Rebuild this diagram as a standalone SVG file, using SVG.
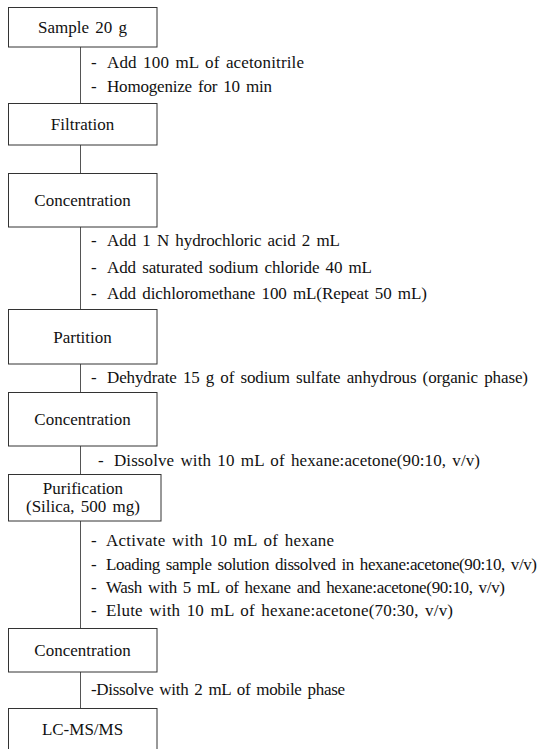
<svg xmlns="http://www.w3.org/2000/svg" width="539" height="749" viewBox="0 0 539 749">
<style>
.box{fill:#fff;stroke:#333;stroke-width:1}
.lbl{font-family:'Liberation Serif','DejaVu Serif',serif;font-size:17px;fill:#111;text-anchor:middle;word-spacing:2px}
.item{font-family:'Liberation Serif','DejaVu Serif',serif;font-size:17px;fill:#111;word-spacing:2px}
.conn{stroke:#555;stroke-width:1;fill:none}
</style>
<rect width="539" height="749" fill="#fff"/>
<g id="connectors">
<line class="conn" x1="80.5" y1="47" x2="80.5" y2="103"/>
<line class="conn" x1="80.5" y1="145" x2="80.5" y2="173"/>
<line class="conn" x1="80.5" y1="227" x2="80.5" y2="309"/>
<line class="conn" x1="80.5" y1="364" x2="80.5" y2="392"/>
<line class="conn" x1="80.5" y1="446" x2="80.5" y2="474"/>
<line class="conn" x1="80.5" y1="521" x2="80.5" y2="628"/>
<line class="conn" x1="80.5" y1="672" x2="80.5" y2="708"/>
</g>
<g id="sample">
<rect class="box" x="8.5" y="7.5" width="148.5" height="39.5"/>
<text class="lbl" x="82.5" y="33">Sample 20 g</text>
</g>
<g id="step1-notes">
<text class="item" x="91" y="68">- <tspan x="107" textLength="197" lengthAdjust="spacing">Add 100 mL of acetonitrile</tspan></text>
<text class="item" x="91" y="92">- <tspan x="107" textLength="165" lengthAdjust="spacing">Homogenize for 10 min</tspan></text>
</g>
<g id="filtration">
<rect class="box" x="8.5" y="103.5" width="148.5" height="41.5"/>
<text class="lbl" x="82.5" y="130">Filtration</text>
</g>
<g id="concentration1">
<rect class="box" x="8.5" y="173.5" width="148.5" height="53.5"/>
<text class="lbl" x="82.5" y="206">Concentration</text>
</g>
<g id="step3-notes">
<text class="item" x="91" y="246">- <tspan x="107" textLength="233" lengthAdjust="spacing">Add 1 N hydrochloric acid 2 mL</tspan></text>
<text class="item" x="91" y="273">- <tspan x="107" textLength="265" lengthAdjust="spacing">Add saturated sodium chloride 40 mL</tspan></text>
<text class="item" x="91" y="299">- <tspan x="107" textLength="320" lengthAdjust="spacing">Add dichloromethane 100 mL(Repeat 50 mL)</tspan></text>
</g>
<g id="partition">
<rect class="box" x="8.5" y="309.5" width="148.5" height="54.5"/>
<text class="lbl" x="82.5" y="343">Partition</text>
</g>
<g id="step4-notes">
<text class="item" x="91" y="383">- <tspan x="107" textLength="421" lengthAdjust="spacing">Dehydrate 15 g of sodium sulfate anhydrous (organic phase)</tspan></text>
</g>
<g id="concentration2">
<rect class="box" x="8.5" y="392.5" width="148.5" height="53.5"/>
<text class="lbl" x="82.5" y="425">Concentration</text>
</g>
<g id="step5-notes">
<text class="item" x="98" y="466">- <tspan x="114" textLength="366" lengthAdjust="spacing">Dissolve with 10 mL of hexane:acetone(90:10, v/v)</tspan></text>
</g>
<g id="purification">
<rect class="box" x="8.5" y="474.5" width="152.5" height="46.5"/>
<text class="lbl" x="83" y="494">Purification</text>
<text class="lbl" x="83" y="512">(Silica, 500 mg)</text>
</g>
<g id="step6-notes">
<text class="item" x="91" y="546">- <tspan x="106" textLength="228" lengthAdjust="spacing">Activate with 10 mL of hexane</tspan></text>
<text class="item" x="91" y="569.5">- <tspan x="106" textLength="431" lengthAdjust="spacing">Loading sample solution dissolved in hexane:acetone(90:10, v/v)</tspan></text>
<text class="item" x="91" y="593">- <tspan x="106" textLength="399" lengthAdjust="spacing">Wash with 5 mL of hexane and hexane:acetone(90:10, v/v)</tspan></text>
<text class="item" x="91" y="616">- <tspan x="106" textLength="347" lengthAdjust="spacing">Elute with 10 mL of hexane:acetone(70:30, v/v)</tspan></text>
</g>
<g id="concentration3">
<rect class="box" x="8.5" y="628.5" width="148.5" height="43.5"/>
<text class="lbl" x="82.5" y="656">Concentration</text>
</g>
<g id="step7-notes">
<text class="item" x="91" y="695" textLength="254" lengthAdjust="spacing">-Dissolve with 2 mL of mobile phase</text>
</g>
<g id="lcmsms">
<rect class="box" x="8.5" y="708.5" width="148.5" height="50"/>
<text class="lbl" x="82.5" y="735">LC-MS/MS</text>
</g>
</svg>
